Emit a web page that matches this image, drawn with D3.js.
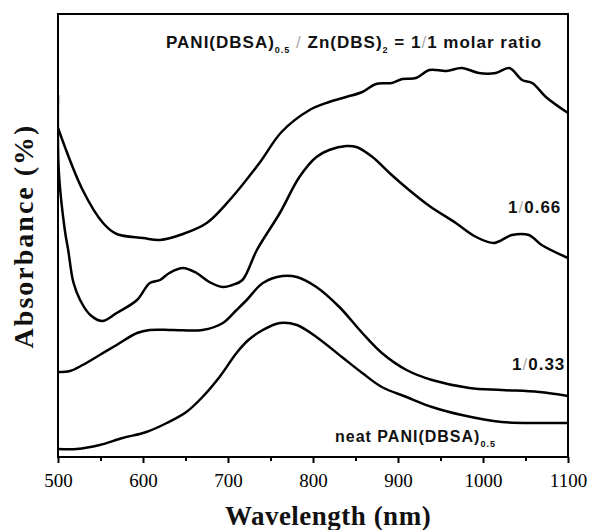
<!DOCTYPE html>
<html>
<head>
<meta charset="utf-8">
<script src="https://cdn.jsdelivr.net/npm/d3@7"></script>
<style>
  html, body { margin: 0; padding: 0; background: #fff; }
  svg { display: block; }
  .tick text { font-family: "Liberation Serif", "Times New Roman", serif; font-size: 19px; fill: #000; }
  .tick line { stroke: #000; stroke-width: 2; }
  .lbl { font-family: "Liberation Sans", Arial, sans-serif; font-weight: bold; fill: #111; letter-spacing: 1px; }
  .ttl { font-family: "Liberation Serif", "Times New Roman", serif; font-weight: bold; fill: #111; }
</style>
</head>
<body>
<div id="chart"></div>
<script>
///// 1. DATA  (wavelength nm, absorbance a.u.)
const WL_11 = [500,529,553,569,600,620,647,675,702,737,763,796,819,839,858,874,893,905,921,937,957,975,995,1015,1031,1046,1058,1074,1100];
const AB_11 = [3.29,2.67,2.34,2.23,2.19,2.17,2.23,2.34,2.57,2.94,3.25,3.47,3.55,3.60,3.65,3.73,3.74,3.78,3.79,3.87,3.86,3.89,3.84,3.84,3.89,3.77,3.74,3.60,3.44];

const WL_066 = [500,501,508,512,518,526,538,552,569,593,608,620,631,647,663,678,694,705,717,734,761,784,804,819,839,851,870,890,913,937,968,992,1013,1034,1054,1069,1100];
const AB_066 = [3.62,2.85,2.27,2.07,1.75,1.57,1.42,1.36,1.44,1.57,1.74,1.77,1.84,1.89,1.84,1.75,1.70,1.72,1.77,2.07,2.44,2.80,3.00,3.07,3.11,3.10,3.00,2.84,2.67,2.51,2.34,2.20,2.14,2.22,2.22,2.12,1.99];

const WL_033 = [500,514,529,549,569,593,608,635,670,694,710,722,741,764,781,804,831,858,881,910,940,984,1022,1066,1100];
const AB_033 = [0.85,0.86,0.92,1.02,1.12,1.24,1.27,1.27,1.27,1.34,1.47,1.57,1.74,1.81,1.80,1.70,1.50,1.24,1.04,0.87,0.77,0.69,0.67,0.65,0.61];

const WL_NEAT = [500,522,549,576,604,628,651,670,690,710,724,741,761,781,804,834,858,881,910,940,975,1022,1066,1100];
const AB_NEAT = [0.08,0.08,0.12,0.19,0.25,0.34,0.45,0.60,0.80,1.04,1.17,1.27,1.34,1.32,1.20,1.00,0.84,0.70,0.60,0.50,0.42,0.35,0.34,0.34];

const MAJOR_TICKS = [500,600,700,800,900,1000,1100];
const MINOR_TICKS = [550,650,750,850,950,1050];

///// 2. SETUP
const W = 590, H = 530;
const L = 58, R = 568, T = 14, B = 457;

const svg = d3.select('#chart').append('svg')
  .attr('width', W).attr('height', H);

const x = d3.scaleLinear([500, 1100], [L, R]);
const y = d3.scaleLinear([0, 4.43], [B, T]);

svg.append('defs').append('clipPath').attr('id', 'clip')
  .append('rect').attr('x', L).attr('y', T).attr('width', R - L).attr('height', B - T);

///// 3. CURVES
const line = d3.line()
  .x(d => x(d[0])).y(d => y(d[1]))
  .curve(d3.curveCatmullRom.alpha(0.5));

const series = [
  d3.zip(WL_11, AB_11),
  d3.zip(WL_066, AB_066),
  d3.zip(WL_033, AB_033),
  d3.zip(WL_NEAT, AB_NEAT)
];

svg.append('g').attr('clip-path', 'url(#clip)')
  .selectAll('path')
  .data(series)
  .join('path')
    .attr('d', line)
    .attr('fill', 'none')
    .attr('stroke', '#000')
    .attr('stroke-width', 2.5)
    .attr('stroke-linejoin', 'round');

///// 4. AXES + FRAME
svg.append('g')
  .attr('transform', `translate(0,${B})`)
  .call(d3.axisBottom(x).tickValues(MINOR_TICKS).tickSize(4).tickFormat(''))
  .call(g => g.select('.domain').remove());

svg.append('g')
  .attr('transform', `translate(0,${B})`)
  .call(d3.axisBottom(x).tickValues(MAJOR_TICKS).tickSize(6).tickPadding(11).tickFormat(d3.format('d')))
  .call(g => g.select('.domain').remove());

svg.append('rect')
  .attr('x', L).attr('y', T).attr('width', R - L).attr('height', B - T)
  .attr('fill', 'none').attr('stroke', '#000').attr('stroke-width', 2);

svg.append('text').attr('class', 'ttl')
  .attr('x', 328).attr('y', 525)
  .attr('text-anchor', 'middle')
  .attr('font-size', 27)
  .attr('letter-spacing', '0.5px')
  .text('Wavelength (nm)');

svg.append('text').attr('class', 'ttl')
  .attr('transform', 'translate(33,236) rotate(-90)')
  .attr('text-anchor', 'middle')
  .attr('font-size', 28)
  .attr('letter-spacing', '2px')
  .text('Absorbance (%)');

///// 5. LABELS
function slash (t) {
  t.append('tspan').attr('fill', '#aaa').attr('font-weight', 'normal').text('/');
}

const t1 = svg.append('text').attr('class', 'lbl')
  .attr('x', 166).attr('y', 48).attr('font-size', 17);
t1.append('tspan').text('PANI(DBSA)');
t1.append('tspan').attr('font-size', 9).attr('dy', 5).text('0.5');
t1.append('tspan').attr('dy', -5).text(' ');
slash(t1);
t1.append('tspan').text(' Zn(DBS)');
t1.append('tspan').attr('font-size', 9).attr('dy', 5).text('2');
t1.append('tspan').attr('dy', -5).text(' = 1');
slash(t1);
t1.append('tspan').text('1 molar ratio');

const t2 = svg.append('text').attr('class', 'lbl')
  .attr('x', 508).attr('y', 213).attr('font-size', 17);
t2.append('tspan').text('1');
slash(t2);
t2.append('tspan').text('0.66');

const t3 = svg.append('text').attr('class', 'lbl')
  .attr('x', 512).attr('y', 370).attr('font-size', 17);
t3.append('tspan').text('1');
slash(t3);
t3.append('tspan').text('0.33');

const t4 = svg.append('text').attr('class', 'lbl')
  .attr('x', 335).attr('y', 442).attr('font-size', 16);
t4.append('tspan').text('neat PANI(DBSA)');
t4.append('tspan').attr('font-size', 9).attr('dy', 5).text('0.5');
</script>
</body>
</html>
